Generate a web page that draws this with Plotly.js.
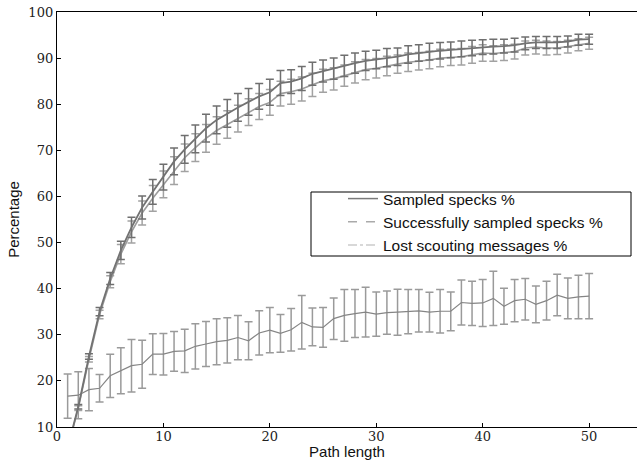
<!DOCTYPE html>
<html>
<head>
<meta charset="utf-8">
<script src="https://cdn.plot.ly/plotly-3.0.1.min.js"></script>
<style>html,body{margin:0;padding:0;background:#fff;}#chart{width:637px;height:460px;}</style>
</head>
<body>
<div id="chart"></div>
<script>
const pathLength = Array.from({length: 50}, (_, i) => i + 1);

const sampledPct = [5.5,14.4,25.3,35.0,42.2,48.3,53.3,57.6,61.0,64.2,
  67.6,70.2,72.5,74.8,76.6,78.0,79.3,80.5,81.7,82.6,
  84.6,84.9,85.6,86.6,87.2,87.7,88.3,88.9,89.4,89.7,
  90.1,90.3,90.8,91.1,91.4,91.6,91.8,92.0,92.2,92.4,
  92.5,92.6,92.8,93.2,93.4,93.4,93.4,93.6,94.0,94.1];
const sampledErr = [0.5,0.5,0.6,0.9,1.3,2.0,2.2,2.5,2.7,2.8,
  2.9,3.0,3.0,3.0,3.0,3.0,3.0,2.9,2.8,2.8,
  2.7,2.6,2.6,2.5,2.4,2.3,2.3,2.2,2.1,2.0,
  2.0,1.9,1.9,1.8,1.8,1.8,1.7,1.7,1.7,1.6,
  1.6,1.5,1.5,1.4,1.3,1.3,1.3,1.2,1.2,1.1];

const successPct = [5.2,14.1,24.7,34.4,41.5,47.5,52.3,56.4,59.6,62.6,
  65.6,68.4,70.6,72.6,74.3,75.6,76.9,78.3,79.5,80.4,
  82.3,82.7,83.3,84.2,85.1,85.5,86.2,86.9,87.5,87.8,
  88.3,88.7,89.1,89.3,89.6,90.0,90.2,90.3,90.7,91.1,
  91.0,91.2,91.4,92.2,92.4,92.2,92.2,92.5,92.9,93.2];
const successErr = [0.5,0.5,0.6,0.9,1.3,2.1,2.4,2.6,2.8,2.9,
  3.0,3.0,3.0,3.0,3.0,3.0,2.9,2.9,2.8,2.8,
  2.7,2.7,2.6,2.5,2.5,2.4,2.3,2.3,2.2,2.1,
  2.1,2.0,2.0,1.9,1.9,1.9,1.8,1.8,1.8,1.8,
  1.7,1.7,1.6,1.5,1.5,1.5,1.4,1.4,1.3,1.3];

const lostPct = [16.7,16.9,18.1,18.4,21.1,22.2,23.3,23.6,25.8,25.8,
  26.4,26.5,27.5,28.0,28.5,28.8,29.4,28.7,30.4,31.0,
  30.3,31.1,32.7,31.7,31.6,33.5,34.2,34.6,34.9,34.5,
  34.8,34.9,35.0,35.2,34.9,35.1,35.1,37.0,36.8,36.9,
  37.9,36.2,37.4,37.7,36.6,37.4,38.6,37.9,38.2,38.4];
const lostErr = [4.8,5.1,4.6,3.0,4.7,5.0,5.7,5.2,4.4,4.5,
  4.3,4.7,4.9,4.9,5.0,4.9,4.8,4.1,4.8,4.9,
  4.1,4.6,5.8,4.1,4.3,4.5,5.6,5.2,5.4,4.8,
  4.7,5.0,4.8,4.6,4.3,4.7,4.2,4.9,4.8,5.1,
  5.9,3.9,4.6,4.5,4.0,4.2,4.5,4.4,4.7,4.9];

const seriesNames = ['Sampled specks %', 'Successfully sampled specks %', 'Lost scouting messages %'];
const xTicks = [0, 10, 20, 30, 40, 50];
const yTicks = [10, 20, 30, 40, 50, 60, 70, 80, 90, 100];

function errTrace(y, err, lineColor, errColor, lw) {
  return {
    x: pathLength, y: y, type: 'scatter', mode: 'lines', showlegend: false,
    line: {color: lineColor, width: lw},
    error_y: {type: 'data', array: err, visible: true, color: errColor, thickness: 1.5, width: 4},
    hoverinfo: 'skip'
  };
}

const data = [
  errTrace(lostPct, lostErr, '#858585', '#9a9a9a', 1.2),
  errTrace(successPct, successErr, '#9c9c9c', '#a2a2a2', 1.6),
  errTrace(sampledPct, sampledErr, '#727272', '#6f6f6f', 1.8),
  {x: [-10], y: [-10], type: 'scatter', mode: 'lines', name: seriesNames[0], line: {color: '#7a7a7a', width: 1.5, dash: 'solid'}},
  {x: [-10], y: [-10], type: 'scatter', mode: 'lines', name: seriesNames[1], line: {color: '#aaaaaa', width: 1.5, dash: 'dash'}},
  {x: [-10], y: [-10], type: 'scatter', mode: 'lines', name: seriesNames[2], line: {color: '#cccccc', width: 1.5, dash: 'dashdot'}}
];

const serif = "DejaVu Serif";
const sans = "Liberation Sans";
const tickFont = {family: serif, size: 13, color: '#222'};
const titleFont = {family: sans, size: 15, color: '#111'};
const layout = {
  width: 637, height: 460,
  margin: {l: 57, r: 0, t: 12, b: 33, pad: 0},
  paper_bgcolor: '#fff', plot_bgcolor: '#fff',
  font: {family: sans},
  showlegend: true,
  legend: {
    x: (343 - 57) / 580, xanchor: 'left',
    y: (427 - 182) / 415, yanchor: 'top',
    bgcolor: 'rgba(0,0,0,0)', borderwidth: 0,
    font: {family: sans, size: 15.5, color: '#111'},
    tracegroupgap: 0
  },
  xaxis: {
    range: [0, 54.5], tickvals: xTicks, ticktext: xTicks.map(String),
    ticks: 'inside', ticklen: 4, tickcolor: '#000', tickwidth: 1,
    ticklabelstandoff: -3,
    showline: true, linecolor: '#000', linewidth: 1.2, mirror: 'ticks',
    showgrid: false, zeroline: false, tickfont: tickFont,
    title: {text: 'Path length', font: titleFont, standoff: 3}
  },
  yaxis: {
    range: [10, 100], tickvals: yTicks, ticktext: yTicks.map(String),
    ticks: 'inside', ticklen: 4, tickcolor: '#000', tickwidth: 1,
    showline: true, linecolor: '#000', linewidth: 1.2, mirror: false,
    showgrid: false, zeroline: false, tickfont: tickFont,
    title: {text: 'Percentage', font: titleFont, standoff: 5}
  },
  shapes: [{
    type: 'rect', xref: 'paper', yref: 'paper',
    x0: (311 - 57) / 580, x1: (631 - 57) / 580,
    y0: (427 - 256) / 415, y1: (427 - 192) / 415,
    line: {color: '#000', width: 1}, fillcolor: 'rgba(0,0,0,0)'
  }]
};

Plotly.newPlot('chart', data, layout, {displayModeBar: false, staticPlot: true});
</script>
</body>
</html>
